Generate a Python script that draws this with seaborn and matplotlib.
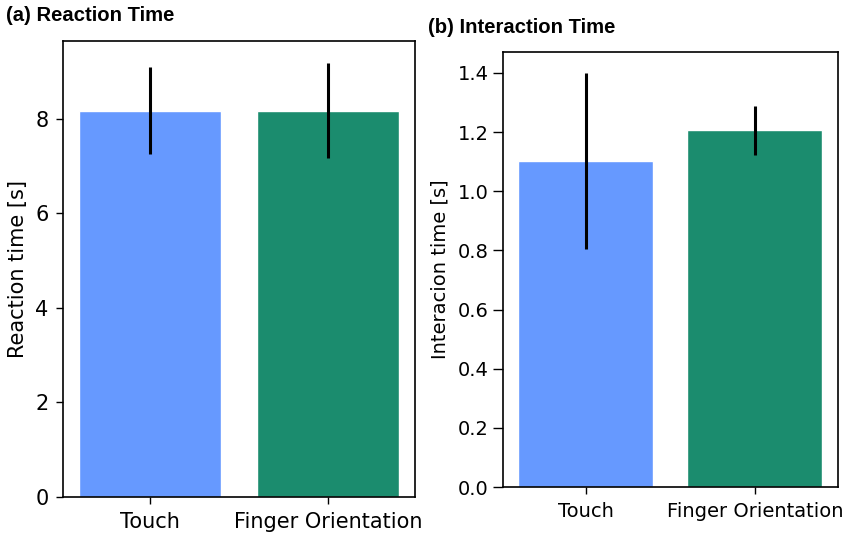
import matplotlib
matplotlib.use("Agg")
import matplotlib.pyplot as plt
import seaborn as sns
import pandas as pd

# Conditions and measured means / error half-widths
conditions = ["Touch", "Finger Orientation"]
reaction_mean = [8.17, 8.17]
reaction_err = [0.92, 1.01]
interaction_mean = [1.102, 1.207]
interaction_err = [0.298, 0.083]

bar_colors = ["#6699ff", "#1b8c6e"]

sns.set_style("ticks")
plt.rcParams["font.family"] = ["DejaVu Sans"]
plt.rcParams.update({
    "text.color": "black",
    "axes.labelcolor": "black",
    "xtick.color": "black",
    "ytick.color": "black",
    "axes.edgecolor": "black",
})

fig = plt.figure(figsize=(8.54, 5.34), dpi=100)
ax_a = fig.add_axes([0.0738, 0.0698, 0.4122, 0.8532])
ax_b = fig.add_axes([0.5886, 0.0880, 0.3923, 0.8141])


def draw_panel(ax, means, errs, ylabel, fsize, ylen, xpad, ypad, label_x):
    df = pd.DataFrame({"condition": conditions, "value": means})
    sns.barplot(data=df, x="condition", y="value", hue="condition",
                palette=bar_colors, saturation=1, errorbar=None,
                legend=False, width=0.8, ax=ax)
    ax.errorbar(range(len(conditions)), means, yerr=errs, fmt="none",
                ecolor="black", elinewidth=2.2, capsize=0)
    ax.set_xlabel("")
    ax.set_ylabel(ylabel, fontsize=fsize)
    ax.yaxis.set_label_coords(label_x, 0.5)
    ax.tick_params(axis="x", labelsize=fsize, length=5, width=1,
                   pad=xpad)
    ax.tick_params(axis="y", labelsize=fsize, length=ylen, width=1,
                   pad=ypad)
    for side in ["top", "right", "left", "bottom"]:
        ax.spines[side].set_visible(True)
        ax.spines[side].set_linewidth(1.2)


draw_panel(ax_a, reaction_mean, reaction_err, "Reaction time [s]",
           15, 5, 6, 5.5, -0.10)
draw_panel(ax_b, interaction_mean, interaction_err, "Interacion time [s]",
           14, 7.5, 5.5, 2.5, -0.160)
ax_a.set_xlim(-0.49, 1.49)
ax_b.set_xlim(-0.49, 1.49)
ax_a.set_ylim(0, 9.64)
ax_b.set_ylim(0, 1.47)
ax_a.set_yticks([0, 2, 4, 6, 8])
ax_b.set_yticks([0.0, 0.2, 0.4, 0.6, 0.8, 1.0, 1.2, 1.4])
ax_b.set_yticklabels([f"{v:.1f}" for v in ax_b.get_yticks()])

title_font = dict(family=["Liberation Sans", "DejaVu Sans"], color="black",
                  fontweight="bold", fontsize=14.6, va="baseline", ha="left")
fig.text(0.007, 0.961, "(a) Reaction Time", **title_font)
fig.text(0.501, 0.938, "(b) Interaction Time", **title_font)

fig.savefig("out.png", dpi=100)
